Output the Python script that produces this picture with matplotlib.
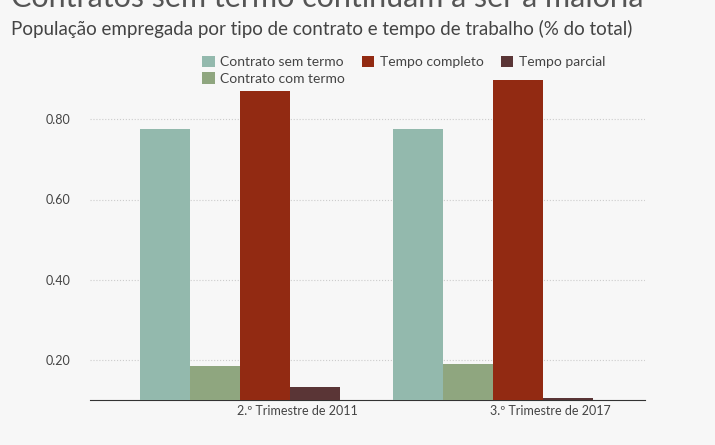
import numpy as np
import matplotlib.pyplot as plt

plt.rcParams['font.family'] = 'Lato'

periods = ['2.º Trimestre de 2011', '3.º Trimestre de 2017']
series = ['Contrato sem termo', 'Contrato com termo', 'Tempo completo', 'Tempo parcial']
values = {
    'Contrato sem termo': [0.775, 0.777],
    'Contrato com termo': [0.185, 0.190],
    'Tempo completo': [0.870, 0.897],
    'Tempo parcial': [0.132, 0.105],
}
colors = ['#93b9ad', '#8fa67f', '#922a12', '#5a3536']
yticks = [0.2, 0.4, 0.6, 0.8]

bg = '#f7f7f7'
base = 0.1
fig = plt.figure(figsize=(7.15, 4.45), dpi=100, facecolor=bg)
ax = fig.add_axes([90 / 715, 45 / 445, 555 / 715, 340 / 445], facecolor=bg)

# group starts in bar-width units (bar width = 1)
starts = np.array([1.0, 6.06])
for i, (name, c) in enumerate(zip(series, colors)):
    ax.bar(starts + i + 0.5, np.array(values[name]) - base, width=1.0, bottom=base,
           color=c, label=name, zorder=3)

ax.set_xlim(0, 11.1)
ax.set_ylim(base, base + 340 / 401)
ax.set_yticks(yticks)
ax.set_yticklabels([f'{v:.2f}' for v in yticks])
ax.set_xticks(starts + 3.15)
ax.set_xticklabels(periods)
ax.tick_params(length=0, labelsize=9, colors='#444444')
ax.tick_params(axis='y', pad=14)
ax.grid(axis='y', linestyle=':', color='#cccccc', zorder=0)
for s in ['top', 'right', 'left']:
    ax.spines[s].set_visible(False)
ax.spines['bottom'].set_color('#333333')

fig.text(0.015, 1.005, 'Contratos sem termo continuam a ser a maioria',
         fontsize=22, color='#555555', va='center')
fig.text(0.015, 0.935, 'População empregada por tipo de contrato e tempo de trabalho (% do total)',
         fontsize=13.5, color='#444444', va='center')

ax.legend(loc='upper left', bbox_to_anchor=(0.18, 1.05), ncol=3, frameon=False,
          fontsize=10, handlelength=0.9, handleheight=0.9, columnspacing=1.2,
          handletextpad=0.4, labelcolor='#444444', labelspacing=0.3)

fig.savefig('out.png', dpi=100, facecolor=bg)
